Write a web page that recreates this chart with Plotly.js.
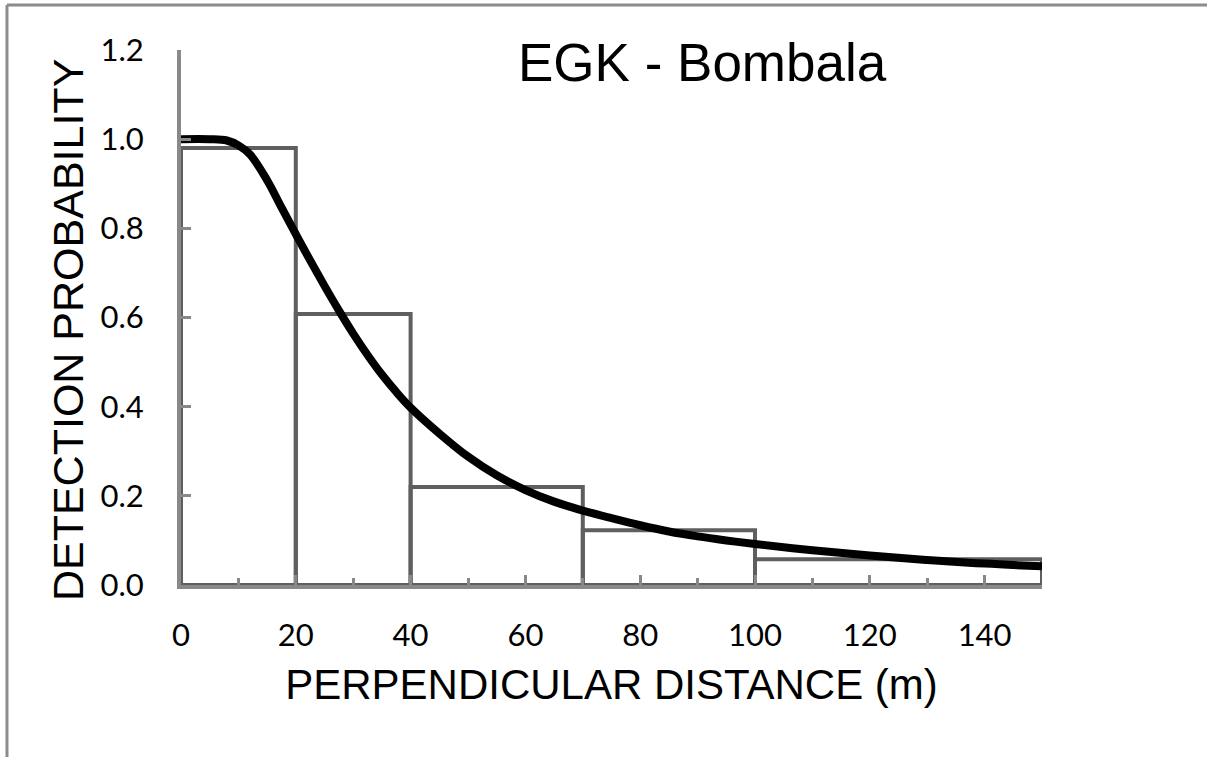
<!DOCTYPE html>
<html>
<head>
<meta charset="utf-8">
<script src="https://cdn.plot.ly/plotly-3.0.1.min.js"></script>
<style>
html,body{margin:0;padding:0;background:#fff;}
#chart{width:1207px;height:757px;}
</style>
</head>
<body>
<div id="chart"></div>
<script>
// Histogram bins (perpendicular distance, m) and scaled heights
const binEdges = [0, 20, 40, 70, 100, 150];
const binHeights = [0.98, 0.608, 0.22, 0.123, 0.058];

// Fitted detection function
const curveX = [0, 5, 8, 10, 12, 15, 17.5, 20, 22.5, 25, 27.5, 30, 32.5, 35, 37.5, 40, 45, 50, 55, 60, 65, 70, 75, 80, 85, 90, 95, 100, 110, 120, 130, 140, 150];
const curveY = [1.0, 1.0, 0.997, 0.986, 0.966, 0.908, 0.847, 0.787, 0.728, 0.671, 0.616, 0.564, 0.516, 0.472, 0.433, 0.398, 0.34, 0.288, 0.246, 0.213, 0.187, 0.167, 0.15, 0.134, 0.12, 0.109, 0.1, 0.092, 0.078, 0.066, 0.056, 0.048, 0.042];

const xTickVals = [0, 20, 40, 60, 80, 100, 120, 140];
const yTickVals = [0.0, 0.2, 0.4, 0.6, 0.8, 1.0, 1.2];

const chartTitle = 'EGK - Bombala';
const xTitle = 'PERPENDICULAR DISTANCE (m)';
const yTitle = 'DETECTION PROBABILITY';

const barLeft = binEdges.slice(0, -1);
const barWidth = barLeft.map((v, i) => binEdges[i + 1] - v);

const axisGray = '#898989';
const barGray = '#5f5f5f';

const traces = [
  {
    type: 'bar',
    x: barLeft,
    y: binHeights,
    width: barWidth,
    offset: 0,
    marker: {color: 'rgba(0,0,0,0)', line: {color: barGray, width: 4}},
    hoverinfo: 'skip',
    showlegend: false
  },
  {
    type: 'scatter',
    mode: 'lines',
    x: curveX,
    y: curveY,
    line: {color: '#000000', width: 8, shape: 'spline', smoothing: 1},
    hoverinfo: 'skip',
    showlegend: false,
    cliponaxis: false
  }
];

const tickFont = {family: 'Lato, "Open Sans", sans-serif', size: 31, color: '#000'};
const titleFontFamily = '"Liberation Sans", Arial, sans-serif';

const layout = {
  width: 1207,
  height: 757,
  paper_bgcolor: '#ffffff',
  plot_bgcolor: '#ffffff',
  margin: {l: 181, r: 165, t: 50, b: 172, pad: 0},
  showlegend: false,
  bargap: 0,
  xaxis: {
    range: [0, 150],
    tickvals: xTickVals,
    ticktext: xTickVals.map(String),
    ticks: 'inside',
    ticklen: 10,
    tickwidth: 3,
    tickcolor: axisGray,
    showline: true,
    linewidth: 4,
    linecolor: axisGray,
    showgrid: false,
    zeroline: false,
    tickfont: tickFont,
    ticklabelstandoff: 20,
    minor: {dtick: 10, tick0: 0, ticks: 'inside', ticklen: 7, tickwidth: 3, tickcolor: axisGray, showgrid: false},
    title: {text: xTitle, font: {family: titleFontFamily, size: 42, color: '#000'}, standoff: 18},
    fixedrange: true
  },
  yaxis: {
    range: [0, 1.2],
    tickvals: yTickVals,
    ticktext: yTickVals.map(v => v.toFixed(1)),
    ticks: 'inside',
    ticklen: 10,
    tickwidth: 3,
    tickcolor: axisGray,
    showline: true,
    linewidth: 4,
    linecolor: axisGray,
    showgrid: false,
    zeroline: false,
    tickfont: tickFont,
    ticklabelstandoff: 27,
    fixedrange: true
  },
  annotations: [
    {
      text: chartTitle,
      xref: 'paper', yref: 'paper',
      x: 0.606, y: 0.977,
      xanchor: 'center', yanchor: 'middle',
      showarrow: false,
      font: {family: titleFontFamily, size: 53, color: '#000'}
    },
    {
      text: yTitle,
      xref: 'paper', yref: 'paper',
      x: -0.1312, y: 0.4766,
      xanchor: 'center', yanchor: 'middle',
      textangle: -90,
      showarrow: false,
      font: {family: titleFontFamily, size: 43, color: '#000'}
    }
  ],
  shapes: [
    {type: 'line', xref: 'paper', yref: 'paper', x0: -0.2021, x1: -0.2021, y0: 1.0841, y1: -0.35, line: {color: '#8c8c8c', width: 3}},
    {type: 'line', xref: 'paper', yref: 'paper', x0: -0.2021, x1: 1.2, y0: 1.0841, y1: 1.0841, line: {color: '#8c8c8c', width: 3}}
  ]
};

Plotly.newPlot('chart', traces, layout, {staticPlot: true, displayModeBar: false});
</script>
</body>
</html>
